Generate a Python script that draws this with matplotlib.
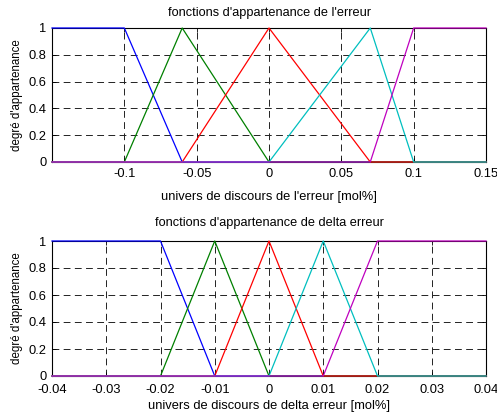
import matplotlib
matplotlib.use('Agg')
import matplotlib.pyplot as plt

# membership function breakpoints, error (top)
err_x = {
    'blue': [-0.15, -0.1, -0.06, 0.15],
    'green': [-0.15, -0.1, -0.06, 0.0, 0.15],
    'red': [-0.15, -0.06, 0.0, 0.07, 0.15],
    'cyan': [-0.15, 0.0, 0.07, 0.1, 0.15],
    'magenta': [-0.15, 0.07, 0.1, 0.15],
}
err_y = {
    'blue': [1, 1, 0, 0],
    'green': [0, 0, 1, 0, 0],
    'red': [0, 0, 1, 0, 0],
    'cyan': [0, 0, 1, 0, 0],
    'magenta': [0, 0, 1, 1],
}
err_xticks = [-0.1, -0.05, 0, 0.05, 0.1, 0.15]
err_xticklabels = ['-0.1', '-0.05', '0', '0.05', '0.1', '0.15']

# membership function breakpoints, delta error (bottom)
derr_x = {
    'blue': [-0.04, -0.02, -0.01, 0.04],
    'green': [-0.04, -0.02, -0.01, 0.0, 0.04],
    'red': [-0.04, -0.01, 0.0, 0.01, 0.04],
    'cyan': [-0.04, 0.0, 0.01, 0.02, 0.04],
    'magenta': [-0.04, 0.01, 0.02, 0.04],
}
derr_y = {
    'blue': [1, 1, 0, 0],
    'green': [0, 0, 1, 0, 0],
    'red': [0, 0, 1, 0, 0],
    'cyan': [0, 0, 1, 0, 0],
    'magenta': [0, 0, 1, 1],
}
derr_xticks = [-0.04, -0.03, -0.02, -0.01, 0, 0.01, 0.02, 0.03, 0.04]
derr_xticklabels = ['-0.04', '-0.03', '-0.02', '-0.01', '0', '0.01', '0.02', '0.03', '0.04']

yticks = [0, 0.2, 0.4, 0.6, 0.8, 1]
yticklabels = ['0', '0.2', '0.4', '0.6', '0.8', '1']

colors = {'blue': (0, 0, 1), 'green': (0, 0.5, 0), 'red': (1, 0, 0),
          'cyan': (0, 0.75, 0.75), 'magenta': (0.75, 0, 0.75)}

plt.rcParams['font.family'] = ['Liberation Sans', 'DejaVu Sans']
W, H = 497, 416
fig = plt.figure(figsize=(W / 100, H / 100), dpi=100)


def panel(box, xs, ys, xlim, xticks, xticklabels, title, xlabel, title_pad):
    l, t, r, b = box
    ax = fig.add_axes([l / W, 1 - b / H, (r - l) / W, (b - t) / H])
    for name in ['blue', 'green', 'red', 'cyan', 'magenta']:
        ax.plot(xs[name], ys[name], color=colors[name], lw=0.9,
                clip_on=False, zorder=3)
    ax.set_xlim(xlim)
    ax.set_ylim(0, 1)
    ax.set_xticks(xticks)
    ax.set_xticklabels(xticklabels)
    ax.set_yticks(yticks)
    ax.set_yticklabels(yticklabels)
    ax.tick_params(direction='in', length=3, labelsize=9.3, top=True, right=True,
                   width=0.6, pad=4)
    ax.grid(True, color='#222222', linestyle=(0, (7, 4.5)), lw=0.7)
    for s in ax.spines.values():
        s.set_linewidth(0.8)
    ax.set_title(title, fontsize=9.2, pad=title_pad)
    ax.set_xlabel(xlabel, fontsize=9.3, labelpad=8)
    ax.set_ylabel("degré d'appartenance", fontsize=8.3, labelpad=4)
    return ax


panel((52, 28, 486, 162), err_x, err_y, (-0.15, 0.15), err_xticks, err_xticklabels,
      "fonctions d'appartenance de l'erreur", "univers de discours de l'erreur [mol%]", 8.5)
ax2 = panel((52, 241, 486, 376), derr_x, derr_y, (-0.04, 0.04), derr_xticks, derr_xticklabels,
            "fonctions d'appartenance de delta erreur", "univers de discours de delta erreur [mol%]", 10.5)
ax2.xaxis.labelpad = 3
ax2.tick_params(axis='x', pad=6)

fig.savefig('out.png', dpi=100)
